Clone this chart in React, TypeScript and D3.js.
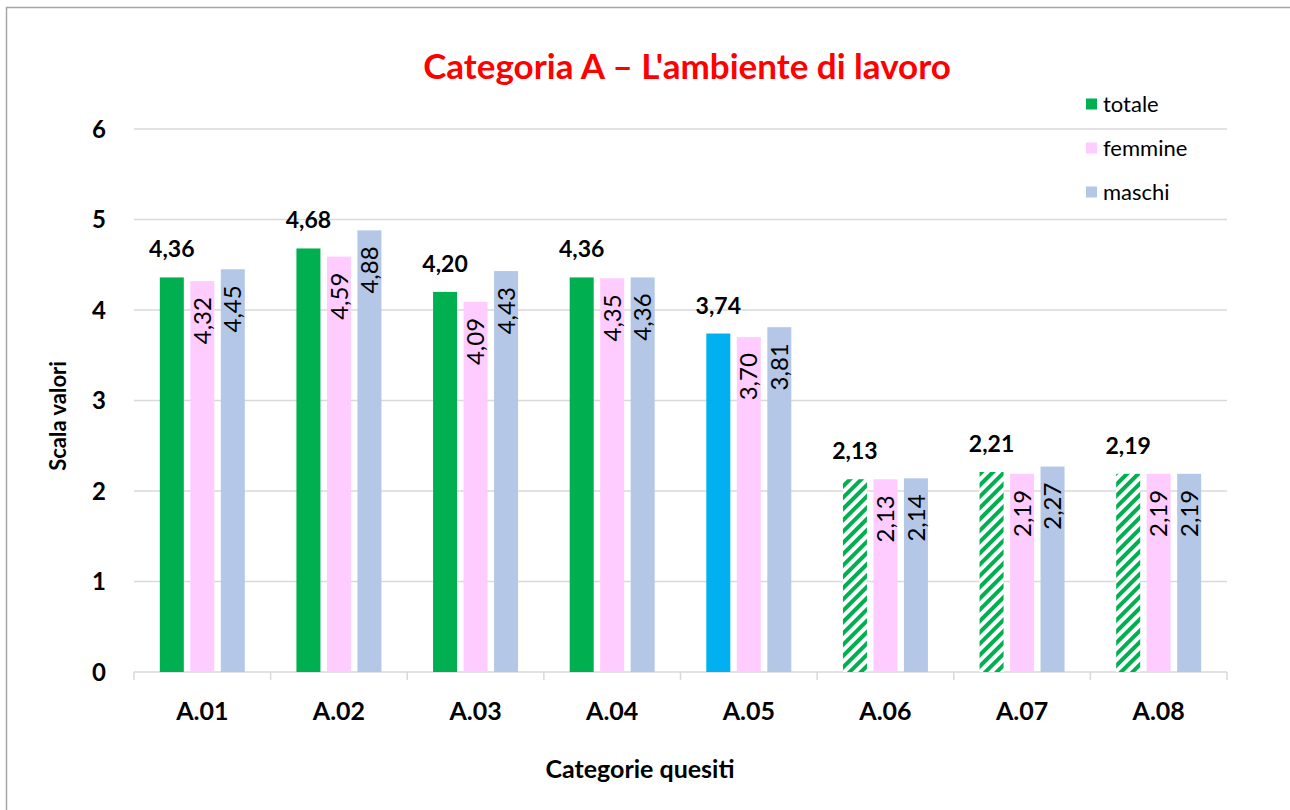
import React, { useEffect, useRef } from "react";
import * as d3 from "d3";

const categories = ["A.01", "A.02", "A.03", "A.04", "A.05", "A.06", "A.07", "A.08"];
const totale = [4.36, 4.68, 4.2, 4.36, 3.74, 2.13, 2.21, 2.19];
const femmine = [4.32, 4.59, 4.09, 4.35, 3.7, 2.13, 2.19, 2.19];
const maschi = [4.45, 4.88, 4.43, 4.36, 3.81, 2.14, 2.27, 2.19];
// how the "totale" bar is filled per category
const totaleStyle = ["solid", "solid", "solid", "solid", "blue", "hatch", "hatch", "hatch"];
const yTicks = [0, 1, 2, 3, 4, 5, 6];
const seriesNames = ["totale", "femmine", "maschi"];

const GREEN = "#00B050";
const PINK = "#FFCCFF";
const BLUE = "#B4C7E7";
const CYAN = "#00B0F0";
const FONT = "Lato, 'Open Sans', sans-serif";

const fmt = (v: number) => d3.format(".2f")(v).replace(".", ",");

const App = () => {
  const ref = useRef<SVGSVGElement>(null);

  useEffect(() => {
    const svg = d3.select(ref.current);
    svg.selectAll("*").remove();

    const W = 1290;
    const H = 810;
    const margin = { top: 129, right: 63, bottom: 138, left: 134 };
    const width = W - margin.left - margin.right;
    const height = H - margin.top - margin.bottom;

    // outer frame of the chart
    svg.append("rect")
      .attr("x", 6.5).attr("y", 7.5)
      .attr("width", W + 20).attr("height", H + 20)
      .attr("fill", "white").attr("stroke", "#a6a6a6").attr("stroke-width", 1.5);

    const defs = svg.append("defs");
    const pat = defs.append("pattern")
      .attr("id", "hatch")
      .attr("patternUnits", "userSpaceOnUse")
      .attr("width", 8).attr("height", 8)
      .attr("patternTransform", "rotate(45)");
    pat.append("rect").attr("width", 8).attr("height", 8).attr("fill", "white");
    pat.append("rect").attr("width", 4).attr("height", 8).attr("fill", GREEN);

    const g = svg.append("g").attr("transform", `translate(${margin.left},${margin.top})`);

    const x = d3.scaleBand().domain(categories).range([0, width]);
    const y = d3.scaleLinear().domain([0, 6]).range([height, 0]);

    // gridlines
    g.selectAll(".grid")
      .data(yTicks.filter(t => t > 0))
      .enter().append("line")
      .attr("x1", 0).attr("x2", width)
      .attr("y1", d => y(d)).attr("y2", d => y(d))
      .attr("stroke", "#d9d9d9").attr("stroke-width", 1.5);

    // y tick labels
    g.selectAll(".ylab")
      .data(yTicks)
      .enter().append("text")
      .attr("x", -28).attr("y", d => y(d))
      .attr("dy", "0.36em")
      .attr("text-anchor", "end")
      .attr("font-family", FONT).attr("font-weight", "bold").attr("font-size", 24)
      .attr("fill", "#000")
      .text(d => d);

    // x axis line and ticks
    g.append("line")
      .attr("x1", 0).attr("x2", width).attr("y1", height).attr("y2", height)
      .attr("stroke", "#d9d9d9").attr("stroke-width", 1.5);
    const bounds = d3.range(categories.length + 1).map(i => i * x.step());
    g.selectAll(".xtick")
      .data(bounds)
      .enter().append("line")
      .attr("x1", d => d).attr("x2", d => d)
      .attr("y1", height).attr("y2", height + 8)
      .attr("stroke", "#d9d9d9").attr("stroke-width", 1.5);

    g.selectAll(".xlab")
      .data(categories)
      .enter().append("text")
      .attr("x", d => x(d)! + x.bandwidth() / 2)
      .attr("y", height + 48)
      .attr("text-anchor", "middle")
      .attr("font-family", FONT).attr("font-weight", "bold").attr("font-size", 25)
      .text(d => d);

    // bars
    const barW = 24;
    const gap = 6.5;
    const inner = d3.scaleBand().domain(seriesNames).range([0, barW * 3 + gap * 2]).paddingInner(gap / (barW + gap));
    const groupOff = (x.bandwidth() - (barW * 3 + gap * 2)) / 2;

    const series = [totale, femmine, maschi];
    const fills = [GREEN, PINK, BLUE];

    seriesNames.forEach((name, si) => {
      const vals = series[si];
      const grp = g.append("g");
      grp.selectAll("rect")
        .data(categories)
        .enter().append("rect")
        .attr("x", d => x(d)! + groupOff + inner(name)!)
        .attr("width", inner.bandwidth())
        .attr("y", (d, i) => y(vals[i]))
        .attr("height", (d, i) => height - y(vals[i]))
        .attr("fill", (d, i) => {
          if (si !== 0) return fills[si];
          if (totaleStyle[i] === "blue") return CYAN;
          if (totaleStyle[i] === "hatch") return "url(#hatch)";
          return GREEN;
        });

      if (si === 0) {
        grp.selectAll("text")
          .data(categories)
          .enter().append("text")
          .attr("x", d => x(d)! + groupOff + inner(name)! + inner.bandwidth() / 2)
          .attr("y", (d, i) => y(vals[i]) - 20)
          .attr("text-anchor", "middle")
          .attr("font-family", FONT).attr("font-weight", "bold").attr("font-size", 23)
          .text((d, i) => fmt(vals[i]));
      } else {
        grp.selectAll("text")
          .data(categories)
          .enter().append("text")
          .attr("transform", (d, i) => {
            const cx = x(d)! + groupOff + inner(name)! + inner.bandwidth() / 2;
            return `translate(${cx},${y(vals[i]) + 16}) rotate(-90)`;
          })
          .attr("dy", "0.36em")
          .attr("text-anchor", "end")
          .attr("font-family", FONT).attr("font-size", 24)
          .attr("fill", "#000")
          .text((d, i) => fmt(vals[i]));
      }
    });

    // legend
    const legend = svg.append("g").attr("transform", "translate(1086,104)");
    seriesNames.forEach((name, i) => {
      const row = legend.append("g").attr("transform", `translate(0,${i * 44})`);
      row.append("rect").attr("x", 0).attr("y", -5.5).attr("width", 11).attr("height", 11).attr("fill", fills[i]);
      row.append("text")
        .attr("x", 17).attr("y", 0).attr("dy", "0.36em")
        .attr("font-family", FONT).attr("font-size", 22)
        .text(name);
    });

    // title
    svg.append("text")
      .attr("x", 687).attr("y", 79)
      .attr("text-anchor", "middle")
      .attr("font-family", FONT).attr("font-weight", "bold").attr("font-size", 35)
      .attr("fill", "#FF0000")
      .text("Categoria A \u2013 L'ambiente di lavoro");

    // axis titles
    svg.append("text")
      .attr("transform", "translate(66,416) rotate(-90)")
      .attr("text-anchor", "middle")
      .attr("font-family", FONT).attr("font-weight", "bold").attr("font-size", 22)
      .text("Scala valori");

    svg.append("text")
      .attr("x", 640).attr("y", 778)
      .attr("text-anchor", "middle")
      .attr("font-family", FONT).attr("font-weight", "bold").attr("font-size", 25)
      .text("Categorie quesiti");
  }, []);

  return (
    <svg
      ref={ref}
      width={1290}
      height={810}
      style={{ position: "absolute", left: 0, top: 0, display: "block" }}
    />
  );
};

export default App;
